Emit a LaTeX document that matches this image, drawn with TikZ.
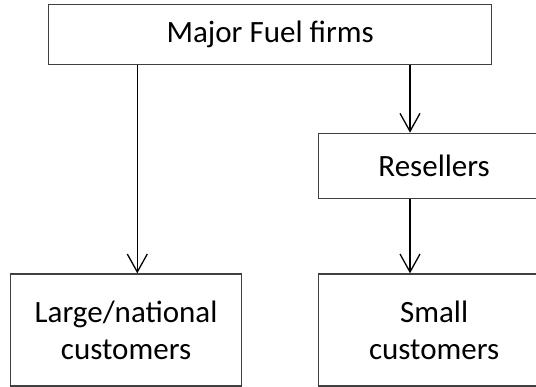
\documentclass[tikz,border=0pt]{standalone}
\usepackage{fontspec}
\setmainfont{Carlito}
\usetikzlibrary{arrows.meta}
\begin{document}
\begin{tikzpicture}[x=1pt,y=-1pt,
  box/.style={draw=black!75,line width=1.3pt,rectangle,inner sep=0pt,align=center,
    font=\fontsize{31}{37}\selectfont},
  arr/.style={line width=1.3pt,-{Straight Barb[length=18pt,width=20pt,line width=1.3pt]}}]
\useasboundingbox (0,0) rectangle (536,387);
\node[box,minimum width=443pt,minimum height=59.6pt] (top) at (270.2,34.5) {Major Fuel firms};
\node[box,minimum width=231.7pt,minimum height=65.4pt] (res) at (434.15,166) {Resellers};
\node[box,minimum width=230.7pt,minimum height=112pt] (large) at (126.05,330) {Large/national\\customers};
\node[box,minimum width=231.7pt,minimum height=112pt] (small) at (434.15,330) {Small\\customers};
\coordinate (xa) at (137.3,0);
\coordinate (xb) at (410,0);
\draw[arr] (top.south -| xa) -- (large.north -| xa);
\draw[arr] (top.south -| xb) -- (res.north -| xb);
\draw[arr] (res.south -| xb) -- (small.north -| xb);
\end{tikzpicture}
\end{document}
